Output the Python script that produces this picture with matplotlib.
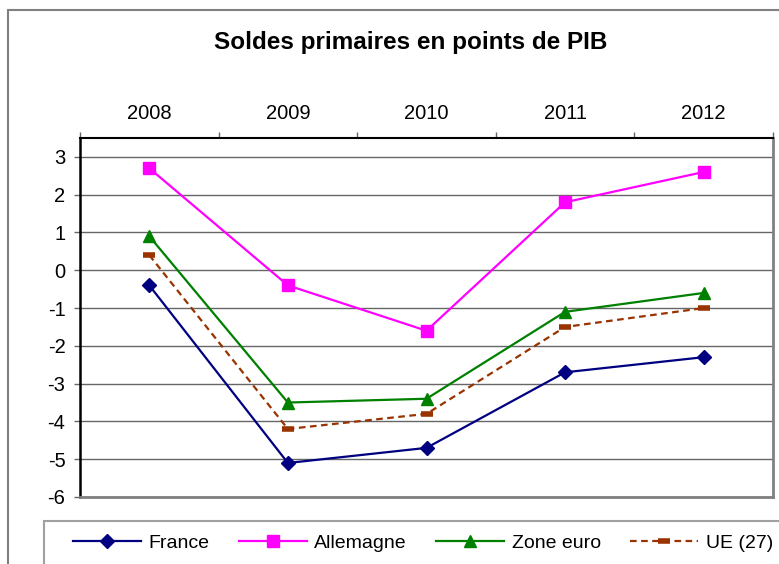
import matplotlib.pyplot as plt
from matplotlib.patches import Rectangle

plt.rcParams['font.family'] = ['Liberation Sans', 'DejaVu Sans']
plt.rcParams['axes.unicode_minus'] = False

years = ['2008', '2009', '2010', '2011', '2012']
france = [-0.4, -5.1, -4.7, -2.7, -2.3]
allemagne = [2.7, -0.4, -1.6, 1.8, 2.6]
zone_euro = [0.9, -3.5, -3.4, -1.1, -0.6]
ue27 = [0.4, -4.2, -3.8, -1.5, -1.0]
yticks = [-6, -5, -4, -3, -2, -1, 0, 1, 2, 3]

fig = plt.figure(figsize=(7.79, 5.64), dpi=100)
ax = fig.add_axes([80/779, 1-497/564, (773-80)/779, (497-138)/564])

x = list(range(len(years)))
for y in yticks:
    ax.axhline(y, color='#666666', lw=1, zorder=1)

ax.plot(x, france, color='#000080', lw=1.6, marker='D', ms=7.5, label='France', zorder=3)
ax.plot(x, allemagne, color='#FF00FF', lw=1.6, marker='s', ms=8, label='Allemagne', zorder=3)
ax.plot(x, zone_euro, color='#008000', lw=1.6, marker='^', ms=8.5, label='Zone euro', zorder=3)
ax.plot(x, ue27, color='#993300', lw=1.6, ls=(0, (3, 2)), marker='_', ms=9, mew=4,
        label='UE (27)', zorder=3)

ax.set_xlim(-0.5, len(years) - 0.5)
ax.set_ylim(-6, 3.5)
ax.set_yticks(yticks)
ax.tick_params(axis='y', length=4.5, width=1, color='#666666', labelsize=14.5, pad=6)

ax.xaxis.tick_top()
ax.set_xticks([i - 0.5 for i in range(len(years) + 1)])
ax.set_xticklabels([])
ax.set_xticks(x, minor=True)
ax.set_xticklabels(years, minor=True)
ax.tick_params(axis='x', which='major', length=4.5, width=1, color='#666666')
ax.tick_params(axis='x', which='minor', length=0, labelsize=14.5, pad=11)

ax.spines['left'].set_linewidth(1.8)
ax.spines['left'].set_color('black')
ax.spines['top'].set_linewidth(1.5)
ax.spines['top'].set_color('black')
ax.spines['right'].set_linewidth(2)
ax.spines['right'].set_color('#808080')
ax.spines['bottom'].set_linewidth(2)
ax.spines['bottom'].set_color('#808080')

fig.text(411/779, 1-43/564, 'Soldes primaires en points de PIB', ha='center', va='center',
         fontsize=17.5, fontweight='bold')

# outer frame and legend box, both cut by the image edge
fig.patches.append(Rectangle((8/779, -0.1), 1.0, 1-10/564+0.1, transform=fig.transFigure,
                             fill=False, ec='#808080', lw=1.5, clip_on=False))
fig.patches.append(Rectangle((44/779, -0.1), 1.0, 1-521/564+0.1, transform=fig.transFigure,
                             fill=False, ec='#a0a0a0', lw=1.5, clip_on=False))

fig.legend(loc='center', bbox_to_anchor=(423/779, 1-543/564), ncol=4, frameon=False,
           fontsize=14, handlelength=3.5, columnspacing=1.5, handletextpad=0.4,
           borderpad=0, borderaxespad=0)

fig.savefig('out.png', dpi=100)
